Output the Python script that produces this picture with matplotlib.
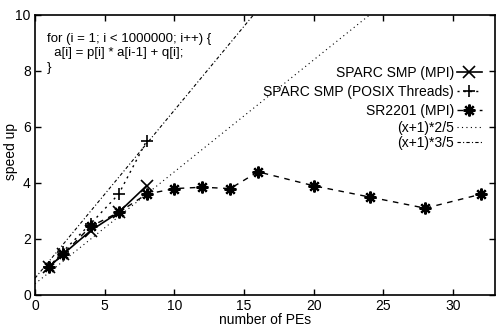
import numpy as np
import matplotlib
matplotlib.use("Agg")
import matplotlib.pyplot as plt

plt.rcParams['font.family'] = ['Liberation Sans', 'DejaVu Sans']

# data
mpi_x = [1, 2, 4, 6, 8]
mpi_y = [1.0, 1.45, 2.3, 2.95, 3.9]
posix_x = [1, 2, 4, 6, 8]
posix_y = [1.0, 1.55, 2.55, 3.6, 5.5]
sr_x = [1, 2, 4, 6, 8, 10, 12, 14, 16, 20, 24, 28, 32]
sr_y = [1.0, 1.45, 2.45, 2.95, 3.6, 3.8, 3.85, 3.8, 4.4, 3.9, 3.5, 3.1, 3.6]
xticks = [0, 5, 10, 15, 20, 25, 30]
yticks = [0, 2, 4, 6, 8, 10]
code_text = "for (i = 1; i < 1000000; i++) {\n  a[i] = p[i] * a[i-1] + q[i];\n}"

fig = plt.figure(figsize=(4.96, 3.27), dpi=100)
ax = fig.add_axes([35/496, 1-295/327, 460/496, 280/327])

h1, = ax.plot(mpi_x, mpi_y, color='black', lw=1.2, marker='x', ms=8, mew=1.2,
              label='SPARC SMP (MPI)')
h2, = ax.plot(posix_x, posix_y, color='black', lw=1.0, ls=(0, (1.5, 3)), marker='+', ms=9, mew=1.2,
              label='SPARC SMP (POSIX Threads)')
h3, = ax.plot(sr_x, sr_y, color='black', lw=1.0, ls=(0, (4, 4)), marker=(8, 2, 0), ms=8.5, mew=1.6,
              label='SR2201 (MPI)')
xl = np.array([0, 33])
h4, = ax.plot(xl, (xl + 1) * 2 / 5, color='black', lw=0.8, ls=(0, (1, 3)), label='(x+1)*2/5')
h5, = ax.plot(xl, (xl + 1) * 3 / 5, color='black', lw=0.8, ls=(0, (3, 2, 1, 2)), label='(x+1)*3/5')

ax.set_xlim(0, 33)
ax.set_ylim(0, 10)
ax.set_xticks(xticks)
ax.set_yticks(yticks)
ax.tick_params(direction='in', top=True, right=True, labelsize=10, length=4, width=1, pad=3)
for s in ax.spines.values():
    s.set_linewidth(1.2)
ax.set_xlabel('number of PEs', fontsize=10, labelpad=0)
ax.set_ylabel('speed up', fontsize=10)
ax.yaxis.set_label_coords(-0.037, 0.514)

ax.text(0.026, 0.935, code_text, transform=ax.transAxes, fontsize=9.5,
        va='top', ha='left', linespacing=1.25)

common = dict(loc='upper right', frameon=False, markerfirst=False, fontsize=10,
              handlelength=1.8, handletextpad=0.2, borderaxespad=0)
leg1 = ax.legend(handles=[h1, h2, h3], bbox_to_anchor=(0.983, 0.8375), labelspacing=0.35, **common)
for t in leg1.get_texts():
    t.set_ha('right')
ax.add_artist(leg1)
leg2 = ax.legend(handles=[h4, h5], bbox_to_anchor=(0.983, 0.641), labelspacing=0.05, **common)
for t in leg2.get_texts():
    t.set_ha('right')

fig.savefig('out.png', dpi=100)
